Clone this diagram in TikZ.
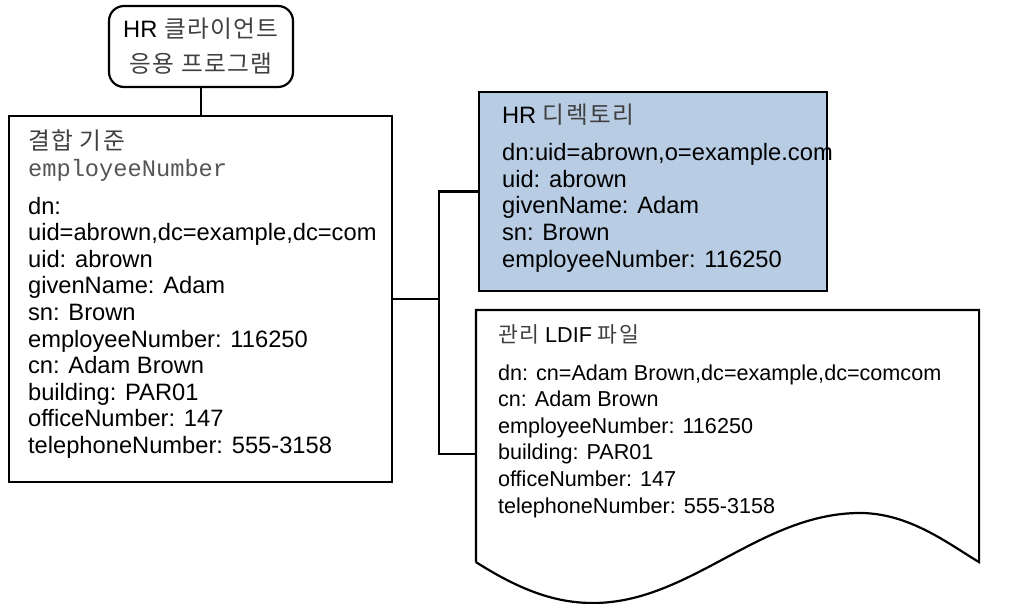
\documentclass[tikz,border=0pt]{standalone}
\usepackage{fontspec}
\setmainfont{Liberation Sans}
\setmonofont{Liberation Mono}
\newfontfamily\krfont[LetterSpace=6]{Noto Sans CJK KR}
\usetikzlibrary{positioning}
\definecolor{dirblue}{HTML}{B8CCE4}
\definecolor{krgray}{HTML}{404040}
\definecolor{ttgray}{HTML}{555555}
\newcommand{\kr}[1]{{\krfont\color{krgray}#1}}

\begin{document}
\begin{tikzpicture}[x=0.5pt, y=-0.5pt, line width=1.1pt,
  box/.style={draw, rectangle, inner sep=0pt},
  txt/.style={anchor=base west, align=left, inner sep=0pt, font=\fontsize{11.85pt}{13.3pt}\selectfont}]
  \useasboundingbox (0,0) rectangle (1032,604);
  % boxes
  \node [box, rounded corners=7.5pt, minimum width=92pt, minimum height=40.5pt, align=center,
         font=\fontsize{11.85pt}{17.5pt}\selectfont] (client) at (201,46.5) {HR \kr{클라이언트}\\\kr{응용 프로그램}};
  \node [box, minimum width=191.5pt, minimum height=183pt] (join) at (200.5,299) {};
  \node [box, fill=dirblue, minimum width=174pt, minimum height=99.5pt] (dir) at (653,191.5) {};
  \node [inner sep=0pt, minimum width=250.5pt, minimum height=125pt] (ldif) at (727.5,436) {};
  \draw (ldif.south west) -- (ldif.north west) -- (ldif.north east) -- (ldif.south east)
     .. controls (950,545) and (910,513) .. (860,513)
     .. controls (760,513) and (690,603) .. (593,603)
     .. controls (555,603) and (520,590) .. (ldif.south west);
  % texts (anchored at the baseline of the last line)
  \node [txt] (jointext) at (27,453.5) {\kr{결합 기준}\\{\ttfamily\color{ttgray}employeeNumber}\\[5.75pt]
    dn:\\uid=abrown,dc=example,dc=com\\uid: abrown\\givenName: Adam\\sn: Brown\\employeeNumber: 116250\\
    cn: Adam Brown\\building: PAR01\\officeNumber: 147\\telephoneNumber: 555-3158};
  \node [txt] (dirtext) at (501,267) {HR \kr{디렉토리}\\[5.25pt]
    dn:uid=abrown,o=example.com\\uid: abrown\\givenName: Adam\\sn: Brown\\employeeNumber: 116250};
  \node [txt, font=\fontsize{10.8pt}{13.3pt}\selectfont] (ldiftext) at (497,513) {\kr{관리} LDIF \kr{파일}\\[5.25pt]
    dn: cn=Adam Brown,dc=example,dc=comcom\\cn: Adam Brown\\employeeNumber: 116250\\
    building: PAR01\\officeNumber: 147\\telephoneNumber: 555-3158};
  % connectors
  \coordinate (bus) at (439,302);
  \draw (client.south) -- (client.south |- join.north);
  \draw (join.east) -- (join.east -| bus);
  \draw (dir.west) -| (bus) |- ([yshift=-9pt]ldif.west);
\end{tikzpicture}
\end{document}
